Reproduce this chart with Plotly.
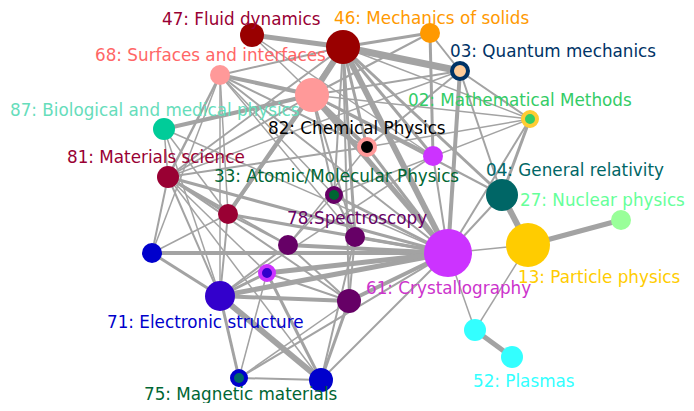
import plotly.graph_objects as go

# ---- nodes (graph layout coordinates, size, colours) ----
node_ids = ["FD", "BIGRED", "MS", "QM", "SURF", "PINK", "MATH", "BIO", "CHEM", "MAG",
            "GR", "MAT", "ATOM", "NUC", "RED2", "PART", "CRYS", "PUR1", "PUR2", "BLUE1",
            "RING", "ELEC", "PUR3", "CYAN1", "PLAS", "MAGN", "BLUE2"]
node_x = [252, 343, 430, 460, 220, 312, 530, 164, 367, 433,
          502, 168, 334, 621, 228, 528, 448, 288, 355, 152,
          267, 220, 349, 475, 512, 239, 321]
node_y = [35, 47, 33, 71, 75, 95, 119, 129, 147, 156,
          195, 177, 195, 220, 214, 245, 253, 245, 237, 253,
          273, 296, 301, 330, 357, 378, 380]
node_size = [12, 17, 10, 10, 10, 17, 9, 11, 10, 10,
             16, 11, 9, 10, 10, 22, 24, 10, 10, 10,
             9, 15, 12, 11, 11, 9, 12]
node_fill = ["#990000", "#990000", "#FF9900", "#FFCC99", "#FF9999", "#FF9999", "#33CC66", "#00CC99", "#000000", "#CC33FF",
             "#006666", "#990033", "#006633", "#99FF99", "#990033", "#FFCC00", "#CC33FF", "#660066", "#660066", "#0000CC",
             "#3300CC", "#3300CC", "#660066", "#33FFFF", "#33FFFF", "#006666", "#0000CC"]
node_ring = [None, None, None, "#003366", None, None, "#FFCC33", None, "#FF9999", None,
             None, None, "#660066", None, None, None, None, None, None, None,
             "#CC33FF", None, None, None, None, "#0000CC", None]

# ---- links (source, target, weight) ----
edges = [
    ("FD", "BIGRED", 5), ("FD", "MAG", 1.5), ("FD", "CHEM", 1.5),
    ("BIGRED", "MS", 3), ("BIGRED", "QM", 7), ("BIGRED", "PINK", 6), ("BIGRED", "SURF", 2),
    ("BIGRED", "CRYS", 6), ("BIGRED", "MAG", 3), ("BIGRED", "CHEM", 3), ("BIGRED", "GR", 3),
    ("BIGRED", "MATH", 1.5), ("BIGRED", "RED2", 4), ("BIGRED", "ATOM", 2), ("BIGRED", "PUR2", 3),
    ("BIGRED", "PUR3", 2), ("BIGRED", "MAT", 2),
    ("MS", "QM", 2), ("MS", "MAG", 3), ("MS", "PINK", 2),
    ("QM", "MATH", 2), ("QM", "CRYS", 4), ("QM", "GR", 2), ("QM", "PINK", 2), ("QM", "CHEM", 2),
    ("QM", "MAT", 1.5),
    ("MATH", "PINK", 1.5), ("MATH", "CHEM", 1.5), ("MATH", "GR", 3), ("MATH", "CRYS", 2),
    ("MATH", "ATOM", 1.5),
    ("SURF", "PINK", 4), ("SURF", "MAT", 2.5), ("SURF", "RED2", 1.5), ("SURF", "CHEM", 2),
    ("SURF", "PUR2", 1.5), ("SURF", "ATOM", 1.5), ("SURF", "CRYS", 2), ("SURF", "ELEC", 1.5),
    ("SURF", "BLUE1", 1.5),
    ("BIO", "PINK", 4), ("BIO", "RED2", 1.5), ("BIO", "CRYS", 1.5), ("BIO", "ELEC", 1.5),
    ("BIO", "MAT", 1.5),
    ("PINK", "CHEM", 4), ("PINK", "CRYS", 5), ("PINK", "MAG", 3), ("PINK", "GR", 2),
    ("PINK", "MAT", 2), ("PINK", "PUR2", 2), ("PINK", "ATOM", 2), ("PINK", "RED2", 3),
    ("CHEM", "CRYS", 3), ("CHEM", "MAT", 2), ("CHEM", "PUR1", 1.5),
    ("MAG", "CRYS", 2), ("MAG", "ELEC", 1.5),
    ("GR", "PART", 6), ("GR", "CRYS", 2),
    ("MAT", "CRYS", 3), ("MAT", "ELEC", 2), ("MAT", "BLUE1", 2), ("MAT", "RED2", 3),
    ("MAT", "PUR1", 2), ("MAT", "PUR3", 2), ("MAT", "BLUE2", 1.5), ("MAT", "RING", 1.5),
    ("ATOM", "CRYS", 3), ("ATOM", "PUR2", 2), ("ATOM", "PUR1", 1.5),
    ("RED2", "CRYS", 3), ("RED2", "ELEC", 2), ("RED2", "PUR1", 2), ("RED2", "BLUE1", 1.5),
    ("PART", "NUC", 5), ("PART", "CRYS", 1.5), ("PART", "CYAN1", 1.5),
    ("CRYS", "BLUE1", 4), ("CRYS", "ELEC", 5), ("CRYS", "RING", 5), ("CRYS", "PUR1", 4),
    ("CRYS", "PUR2", 3), ("CRYS", "PUR3", 4), ("CRYS", "BLUE2", 2), ("CRYS", "MAGN", 2),
    ("CRYS", "CYAN1", 1.5),
    ("ELEC", "BLUE2", 6), ("ELEC", "MAGN", 3), ("ELEC", "PUR3", 4), ("ELEC", "RING", 3),
    ("ELEC", "BLUE1", 3), ("ELEC", "PUR1", 2),
    ("BLUE2", "PUR3", 3), ("BLUE2", "MAGN", 2), ("BLUE2", "RING", 3), ("BLUE2", "PUR2", 2),
    ("MAGN", "PUR3", 1.5), ("MAGN", "RING", 1.5),
    ("PUR3", "PUR2", 2), ("PUR3", "PUR1", 2), ("PUR3", "RING", 2),
    ("CYAN1", "PLAS", 5),
]

# ---- labels ----
label_text = ["47: Fluid dynamics", "46: Mechanics of solids", "68: Surfaces and interfaces",
              "03: Quantum mechanics", "87: Biological and medical physics", "02: Mathematical Methods",
              "82: Chemical Physics", "81: Materials science", "33: Atomic/Molecular Physics",
              "04: General relativity", "27: Nuclear physics", "78:Spectroscopy",
              "13: Particle physics", "61: Crystallography", "71: Electronic structure",
              "52: Plasmas", "75: Magnetic materials"]
label_x = [241, 431, 210, 553, 155, 520, 357, 156, 336, 575, 602, 357, 599, 448, 205, 524, 240]
label_y = [19, 18, 55, 51, 110, 100, 128, 157, 176, 170, 200, 218, 277, 288, 322, 381, 394]
label_color = ["#990033", "#FF9900", "#FF6666", "#003366", "#66DDBB", "#33CC66",
               "#000000", "#990033", "#006633", "#006666", "#66FF99", "#660066",
               "#FFCC00", "#CC33CC", "#0000CC", "#33FFFF", "#006633"]

idx = {n: i for i, n in enumerate(node_ids)}
fig = go.Figure()

# edges grouped by weight
weights = sorted(set(w for _, _, w in edges))
for w in weights:
    xs, ys = [], []
    for a, b, ww in edges:
        if ww == w:
            xs += [node_x[idx[a]], node_x[idx[b]], None]
            ys += [node_y[idx[a]], node_y[idx[b]], None]
    fig.add_trace(go.Scatter(x=xs, y=ys, mode="lines",
                             line=dict(color="#A3A3A3", width=w),
                             hoverinfo="skip", showlegend=False))

# nodes
line_w = [4 if r else 0 for r in node_ring]
line_c = [r if r else "rgba(0,0,0,0)" for r in node_ring]
sizes = [2 * s - lw for s, lw in zip(node_size, line_w)]
fig.add_trace(go.Scatter(x=node_x, y=node_y, mode="markers",
                         marker=dict(size=sizes, color=node_fill,
                                     line=dict(width=line_w, color=line_c),
                                     opacity=1),
                         text=node_ids, hoverinfo="text", showlegend=False))

for t, x, y, c in zip(label_text, label_x, label_y, label_color):
    fig.add_annotation(x=x, y=y, text=t, showarrow=False,
                       font=dict(family="DejaVu Sans", size=16.8, color=c),
                       xanchor="center", yanchor="middle")

# page body has an 8px margin on every side: shrink the figure so no
# scrollbars appear and shift the ranges so data coordinates map onto
# the same window pixels
OFF = 8
fig.update_layout(width=694 - 2 * OFF, height=411 - 2 * OFF,
                  margin=dict(l=0, r=0, t=0, b=0),
                  plot_bgcolor="white", paper_bgcolor="white",
                  xaxis=dict(range=[OFF, 694 - OFF], visible=False, fixedrange=True),
                  yaxis=dict(range=[411 - OFF, OFF], visible=False, fixedrange=True))
fig.write_html("out.html")
